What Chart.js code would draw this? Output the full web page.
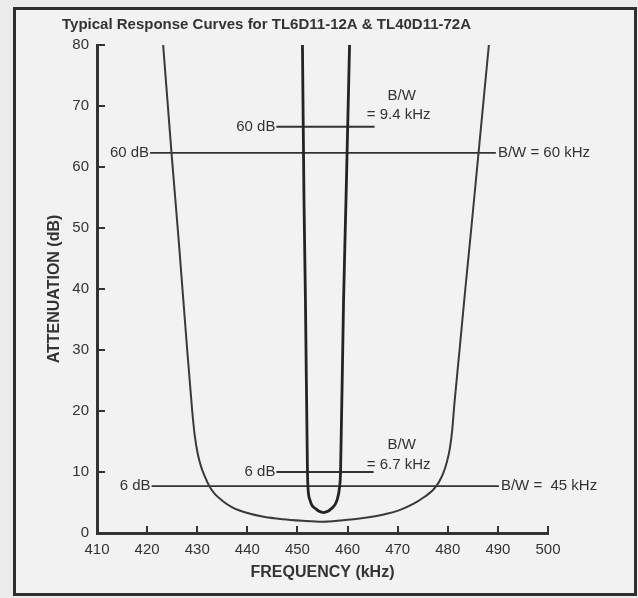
<!DOCTYPE html>
<html>
<head>
<meta charset="utf-8">
<script src="https://cdn.jsdelivr.net/npm/chart.js@4/dist/chart.umd.min.js"></script>
<style>
    html, body { margin: 0; padding: 0; background: #ebebeb; }
    #frame {
        position: absolute; left: 13px; top: 7px; width: 624px; height: 589px;
        box-sizing: border-box; border: 3px solid #2f2f2f; background: #f2f2f2;
    }
    #wrap { position: absolute; left: 0; top: 0; width: 638px; height: 598px; }
</style>
</head>
<body>
<div id="frame"></div>
<div id="wrap"><canvas id="chart" width="638" height="598"></canvas></div>
<script>
// Response curve data (kHz, dB)
const TITLE = 'Typical Response Curves for TL6D11-12A & TL40D11-72A';

// wide filter (TL40D11-72A)
const wideFreq  = [423.2, 424.9, 426.3, 428.0, 428.5, 429.0, 429.5, 430.1, 430.8, 431.55, 432.4, 433.5, 435.0, 437.0,
                   439.5, 443.0, 447.0, 451.0, 455.0, 458.6, 463.5, 467.0, 470.5, 473.2, 475.3, 477.0, 478.2,
                   479.1, 479.8, 480.4, 480.9, 481.3, 482.35, 483.5, 484.7, 486.1, 488.2];
const wideAtten = [80, 62, 48, 30, 25, 20, 16, 13, 10.8, 9.2, 7.7, 6.4, 5.3, 4.2,
                   3.4, 2.7, 2.25, 2.0, 1.85, 2.05, 2.5, 3.0, 3.8, 4.8, 5.9, 7.0, 8.3,
                   9.8, 11.6, 13.8, 17, 21, 30, 40, 50, 62, 80];

// narrow filter (TL6D11-12A)
const narrowFreq  = [451.0, 451.3, 451.6, 452.0, 452.1, 452.5, 453.6, 455.2, 456.8, 457.9, 458.4, 458.6, 459.2, 459.7, 460.4];
const narrowAtten = [80, 55, 38, 10, 7.5, 5.4, 4.0, 3.35, 4.0, 5.4, 7.5, 10, 38, 55, 80];

// bandwidth marker lines
const wide60Freq = [420.6, 489.6];   const wide60Atten = [62.3, 62.3];
const wide6Freq = [420.9, 490.2];    const wide6Atten = [7.7, 7.7];
const narrow60Freq = [445.8, 465.4]; const narrow60Atten = [66.6, 66.6];
const narrow6Freq = [445.8, 465.2];  const narrow6Atten = [10.0, 10.0];

// annotation texts and their anchor points
const noteText  = ['60 dB', 'B/W = 60 kHz', '6 dB', 'B/W =  45 kHz', '60 dB', 'B/W', '= 9.4 kHz', '6 dB', 'B/W', '= 6.7 kHz'];
const noteFreq  = [420.4, 490.0, 420.7, 490.6, 445.6, 470.8, 470.2, 445.6, 470.8, 470.2];
const noteAtten = [62.3, 62.3, 7.7, 7.7, 66.6, 71.6, 68.5, 10.0, 14.4, 11.1];
const noteAlign = ['right', 'left', 'right', 'left', 'right', 'center', 'center', 'right', 'center', 'center'];

const INK = '#333333';
const FONT = '"Liberation Sans", Arial, sans-serif';

function toPoints(xs, ys) {
    return xs.map((x, i) => ({ x: x, y: ys[i] }));
}

function lineSet(xs, ys, width, color, smooth) {
    return {
        data: toPoints(xs, ys),
        showLine: true,
        borderColor: color,
        borderWidth: width,
        pointRadius: 0,
        cubicInterpolationMode: smooth ? 'monotone' : 'default',
        tension: 0,
        fill: false
    };
}

// draws inward tick marks, the title and the bandwidth notes
const overlay = {
    id: 'overlay',
    afterDraw(chart) {
        const { ctx, chartArea } = chart;
        const x = chart.scales.x, y = chart.scales.y;
        ctx.save();
        ctx.strokeStyle = INK;
        ctx.lineWidth = 2;
        y.ticks.forEach(t => {
            if (t.value === 0) return;
            const py = Math.round(y.getPixelForValue(t.value));
            ctx.beginPath();
            ctx.moveTo(chartArea.left, py);
            ctx.lineTo(chartArea.left + 8, py);
            ctx.stroke();
        });
        x.ticks.forEach(t => {
            if (t.value === 410) return;
            const px = Math.round(x.getPixelForValue(t.value));
            ctx.beginPath();
            ctx.moveTo(px, chartArea.bottom);
            ctx.lineTo(px, chartArea.bottom - 7);
            ctx.stroke();
        });

        ctx.fillStyle = INK;
        ctx.textBaseline = 'middle';
        ctx.textAlign = 'left';
        ctx.font = 'bold 15px ' + FONT;
        ctx.fillText(TITLE, 62, 25);

        ctx.font = '15px ' + FONT;
        noteText.forEach((txt, i) => {
            ctx.textAlign = noteAlign[i];
            ctx.fillText(txt, x.getPixelForValue(noteFreq[i]), y.getPixelForValue(noteAtten[i]));
        });
        ctx.restore();
    }
};

new Chart(document.getElementById('chart'), {
    type: 'scatter',
    data: {
        datasets: [
            lineSet(wideFreq, wideAtten, 2, '#3a3a3a', true),
            lineSet(narrowFreq, narrowAtten, 2.8, '#242424', true),
            lineSet(wide60Freq, wide60Atten, 1.8, INK, false),
            lineSet(wide6Freq, wide6Atten, 1.8, INK, false),
            lineSet(narrow60Freq, narrow60Atten, 2.2, INK, false),
            lineSet(narrow6Freq, narrow6Atten, 2.2, INK, false)
        ]
    },
    options: {
        responsive: false,
        animation: false,
        layout: { padding: { left: 20, top: 45, right: 90, bottom: 10 } },
        plugins: {
            legend: { display: false },
            tooltip: { enabled: false }
        },
        scales: {
            x: {
                type: 'linear',
                min: 410,
                max: 500,
                afterFit: s => { s.height = 55; },
                border: { color: INK, width: 3 },
                grid: { display: false, drawTicks: false },
                ticks: { stepSize: 10, padding: 8, color: '#333', font: { family: FONT, size: 15 } },
                title: {
                    display: true,
                    text: 'FREQUENCY (kHz)',
                    color: INK,
                    padding: { top: 0, bottom: 6 },
                    font: { family: FONT, size: 16, weight: 'bold' }
                }
            },
            y: {
                type: 'linear',
                min: 0,
                max: 80,
                afterFit: s => { s.width = 77; },
                border: { color: INK, width: 3 },
                grid: { display: false, drawTicks: false },
                ticks: { stepSize: 10, padding: 8, color: '#333', font: { family: FONT, size: 15 } },
                title: {
                    display: true,
                    text: 'ATTENUATION (dB)',
                    color: INK,
                    padding: { top: 25, bottom: 0 },
                    font: { family: FONT, size: 16, weight: 'bold' }
                }
            }
        }
    },
    plugins: [overlay]
});
</script>
</body>
</html>
